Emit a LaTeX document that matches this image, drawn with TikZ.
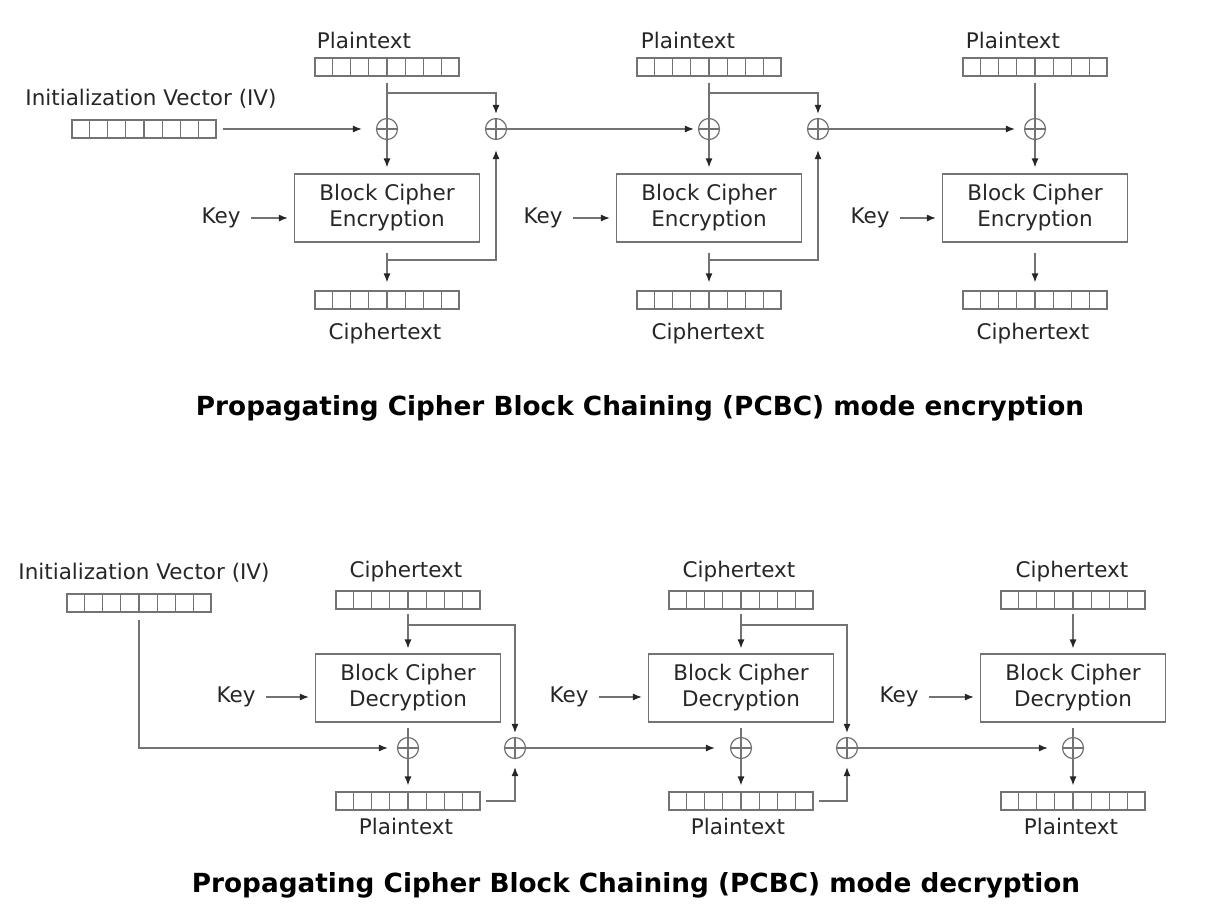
\documentclass[tikz,border=0pt]{standalone}
\usepackage{fontspec}
\setmainfont{DejaVu Sans}
\usetikzlibrary{arrows.meta}
\usetikzlibrary{calc}

% the seven cell walls of an 8-cell data block
\newcommand{\cellrow}[1]{%
  \foreach \cc in {1,...,7}
    \draw[wire] ($(#1.north west)!\cc/8!(#1.north east)$) -- ($(#1.south west)!\cc/8!(#1.south east)$);%
}

\begin{document}
\begin{tikzpicture}[
  x=1pt, y=-1pt,
  font=\fontsize{21.5}{26}\selectfont,
  wire/.style={draw=black!55, line width=1.2pt},
  arrow/.style={wire, -{Latex[length=9pt, width=7pt, color=black!85]}},
  txt/.style={text=black!85, inner sep=2pt},
  blk/.style={wire, minimum width=144pt, minimum height=18pt, inner sep=0pt},
  cipher/.style={wire, minimum width=185pt, minimum height=68pt, align=center, text=black!85},
  xor/.style={wire, circle, minimum size=21pt, inner sep=0pt,
    path picture={\draw[wire] (path picture bounding box.north) -- (path picture bounding box.south)
      (path picture bounding box.west) -- (path picture bounding box.east);}},
  title/.style={font=\fontsize{26.3}{30}\selectfont\bfseries}
]
\useasboundingbox (0,0) rectangle (1207,914);

%% ---------------- Encryption ----------------

% IV
\node[txt] (ivlabE) at (151,99) {Initialization Vector (IV)};
\node[blk] (ivE) at (144,129) {}; \cellrow{ivE}

% Stage 1
\node[txt] (ptlabE1) at (364,40) {Plaintext};
\node[blk] (ptE1) at (387,67) {}; \cellrow{ptE1}
\node[xor] (xaE1) at (387,129) {};
\node[xor] (xbE1) at (496,129) {};
\node[cipher] (encE1) at (387,208) {Block Cipher\\Encryption};
\node[txt] (keyE1) at (221,218) {Key};
\node[blk] (ctE1) at (387,300) {}; \cellrow{ctE1}
\node[txt] (ctlabE1) at (385,334) {Ciphertext};
\coordinate (brE1) at (387,93);
\coordinate (fbE1) at (387,260);

% Stage 2
\node[txt] (ptlabE2) at (688,40) {Plaintext};
\node[blk] (ptE2) at (709,67) {}; \cellrow{ptE2}
\node[xor] (xaE2) at (709,129) {};
\node[xor] (xbE2) at (818,129) {};
\node[cipher] (encE2) at (709,208) {Block Cipher\\Encryption};
\node[txt] (keyE2) at (543,218) {Key};
\node[blk] (ctE2) at (709,300) {}; \cellrow{ctE2}
\node[txt] (ctlabE2) at (708,334) {Ciphertext};
\coordinate (brE2) at (709,93);
\coordinate (fbE2) at (709,260);

% Stage 3
\node[txt] (ptlabE3) at (1013,40) {Plaintext};
\node[blk] (ptE3) at (1035,67) {}; \cellrow{ptE3}
\node[xor] (xaE3) at (1035,129) {};
\node[cipher] (encE3) at (1035,208) {Block Cipher\\Encryption};
\node[txt] (keyE3) at (870,218) {Key};
\node[blk] (ctE3) at (1035,300) {}; \cellrow{ctE3}
\node[txt] (ctlabE3) at (1033,334) {Ciphertext};

% Connections
\draw[arrow, shorten <=6pt, shorten >=14pt] (ivE) -- (xaE1);
\draw[wire, shorten <=6pt] (ptE1) -- (xaE1);
\draw[wire, shorten <=6pt] (ptE2) -- (xaE2);
\draw[wire, shorten <=6pt] (ptE3) -- (xaE3);
\draw[arrow, shorten >=4pt] (brE1) -| (xbE1);
\draw[arrow, shorten >=4pt] (brE2) -| (xbE2);
\draw[arrow, shorten >=6pt] (xaE1) -- (encE1);
\draw[arrow, shorten >=6pt] (xaE2) -- (encE2);
\draw[arrow, shorten >=6pt] (xaE3) -- (encE3);
\draw[arrow, shorten <=8pt, shorten >=6pt] (keyE1) -- (keyE1 -| encE1.west);
\draw[arrow, shorten <=8pt, shorten >=6pt] (keyE2) -- (keyE2 -| encE2.west);
\draw[arrow, shorten <=8pt, shorten >=6pt] (keyE3) -- (keyE3 -| encE3.west);
\draw[arrow, shorten <=10pt, shorten >=8pt] (encE1) -- (ctE1);
\draw[arrow, shorten <=10pt, shorten >=8pt] (encE2) -- (ctE2);
\draw[arrow, shorten <=10pt, shorten >=8pt] (encE3) -- (ctE3);
\draw[arrow, shorten >=10pt] (fbE1) -| (xbE1);
\draw[arrow, shorten >=10pt] (fbE2) -| (xbE2);
\draw[arrow, shorten >=4pt] (xbE1) -- (xaE2);
\draw[arrow, shorten >=9pt] (xbE2) -- (xaE3);

\node[title] (titleE) at (640,408) {Propagating Cipher Block Chaining (PCBC) mode encryption};

%% ---------------- Decryption ----------------

% IV
\node[txt] (ivlabD) at (144,573) {Initialization Vector (IV)};
\node[blk] (ivD) at (139,603) {}; \cellrow{ivD}

% Stage 1
\node[txt] (ctlabD1) at (406,572) {Ciphertext};
\node[blk] (ctD1) at (408,600) {}; \cellrow{ctD1}
\node[cipher] (decD1) at (408,688) {Block Cipher\\Decryption};
\node[txt] (keyD1) at (236,697) {Key};
\node[xor] (xaD1) at (408,748) {};
\node[xor] (xbD1) at (515,748) {};
\node[blk] (ptD1) at (408,801) {}; \cellrow{ptD1}
\node[txt] (ptlabD1) at (406,826) {Plaintext};
\coordinate (brD1) at (408,625);

% Stage 2
\node[txt] (ctlabD2) at (739,572) {Ciphertext};
\node[blk] (ctD2) at (741,600) {}; \cellrow{ctD2}
\node[cipher] (decD2) at (741,688) {Block Cipher\\Decryption};
\node[txt] (keyD2) at (569,697) {Key};
\node[xor] (xaD2) at (741,748) {};
\node[xor] (xbD2) at (847,748) {};
\node[blk] (ptD2) at (741,801) {}; \cellrow{ptD2}
\node[txt] (ptlabD2) at (738,826) {Plaintext};
\coordinate (brD2) at (741,625);

% Stage 3
\node[txt] (ctlabD3) at (1072,572) {Ciphertext};
\node[blk] (ctD3) at (1073,600) {}; \cellrow{ctD3}
\node[cipher] (decD3) at (1073,688) {Block Cipher\\Decryption};
\node[txt] (keyD3) at (899,697) {Key};
\node[xor] (xaD3) at (1073,748) {};
\node[blk] (ptD3) at (1073,801) {}; \cellrow{ptD3}
\node[txt] (ptlabD3) at (1071,826) {Plaintext};

% Connections
\draw[arrow, shorten <=4pt, shorten >=5pt] (ctD1) -- (decD1);
\draw[arrow, shorten <=4pt, shorten >=5pt] (ctD2) -- (decD2);
\draw[arrow, shorten <=4pt, shorten >=5pt] (ctD3) -- (decD3);
\draw[arrow, shorten >=4pt] (brD1) -| (xbD1);
\draw[arrow, shorten >=4pt] (brD2) -| (xbD2);
\draw[arrow, shorten <=8pt, shorten >=6pt] (keyD1) -- (keyD1 -| decD1.west);
\draw[arrow, shorten <=8pt, shorten >=6pt] (keyD2) -- (keyD2 -| decD2.west);
\draw[arrow, shorten <=8pt, shorten >=6pt] (keyD3) -- (keyD3 -| decD3.west);
\draw[wire, shorten <=5pt] (decD1) -- (xaD1);
\draw[wire, shorten <=5pt] (decD2) -- (xaD2);
\draw[wire, shorten <=5pt] (decD3) -- (xaD3);
\draw[arrow, shorten >=6pt] (xaD1) -- (ptD1);
\draw[arrow, shorten >=6pt] (xaD2) -- (ptD2);
\draw[arrow, shorten >=6pt] (xaD3) -- (ptD3);
\draw[arrow, shorten <=7pt, shorten >=9pt] (ivD) |- (xaD1);
\draw[arrow, shorten <=5pt, shorten >=8pt] (ptD1) -| (xbD1);
\draw[arrow, shorten <=5pt, shorten >=8pt] (ptD2) -| (xbD2);
\draw[arrow, shorten >=15pt] (xbD1) -- (xaD2);
\draw[arrow, shorten >=14pt] (xbD2) -- (xaD3);

\node[title] (titleD) at (636,885) {Propagating Cipher Block Chaining (PCBC) mode decryption};

\end{tikzpicture}
\end{document}
